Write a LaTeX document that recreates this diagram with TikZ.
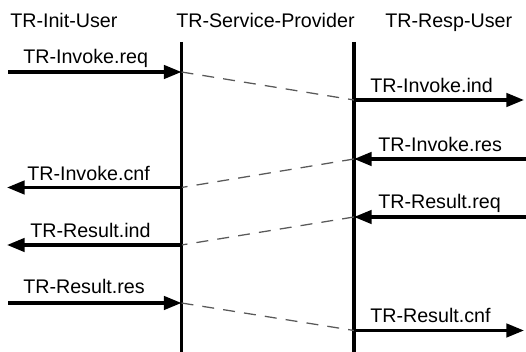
\documentclass[tikz,border=0pt]{standalone}
\usepackage{fontspec}
\setmainfont{Liberation Sans}
\usetikzlibrary{arrows.meta}

\begin{document}
\begin{tikzpicture}[
  x=0.025cm, y=-0.025cm,
  lifeline/.style={line width=2.4pt},
  msg/.style={line width=2.3pt, -{Triangle[length=12.5pt,width=9.5pt]}},
  internal/.style={gray!70!black, line width=0.9pt, dash pattern=on 8.5pt off 6.5pt},
  hdr/.style={anchor=base west, inner sep=0pt, font=\fontsize{14}{17}\selectfont},
  lbl/.style={anchor=base west, inner sep=0pt, font=\fontsize{14}{17}\selectfont}
]
\useasboundingbox (0,0) rectangle (526,352);

% Headings
\node[hdr] (init) at (10,28) {TR-Init-User};
\node[hdr] (prov) at (176,28) {TR-Service-Provider};
\node[hdr] (resp) at (385,28) {TR-Resp-User};

% Lifelines
\coordinate (sptop) at (181.5,42);
\coordinate (spbot) at (181.5,352);
\coordinate (rutop) at (354,42);
\coordinate (rubot) at (354,352);
\draw[lifeline] (sptop) -- (spbot);
\draw[lifeline] (rutop) -- (rubot);

% Invoke
\coordinate (ireq0) at (8,72);
\coordinate (ireq1) at (181.5,72);
\coordinate (iind0) at (354,100);
\coordinate (iind1) at (524,100);
\draw[msg] (ireq0) -- (ireq1);
\draw[internal] (ireq1) -- (iind0);
\draw[msg] (iind0) -- (iind1);
\node[lbl] (ireqlbl) at (23,64) {TR-Invoke.req};
\node[lbl] (iindlbl) at (370,93) {TR-Invoke.ind};

% Invoke response
\coordinate (ires0) at (526,159);
\coordinate (ires1) at (354,159);
\coordinate (icnf0) at (181.5,187.5);
\coordinate (icnf1) at (7,187.5);
\draw[msg] (ires0) -- (ires1);
\draw[internal] (ires1) -- (icnf0);
\draw[msg] (icnf0) -- (icnf1);
\node[lbl] (ireslbl) at (378,152) {TR-Invoke.res};
\node[lbl] (icnflbl) at (27,181) {TR-Invoke.cnf};

% Result
\coordinate (rreq0) at (526,217);
\coordinate (rreq1) at (354,217);
\coordinate (rind0) at (181.5,245);
\coordinate (rind1) at (7,245);
\draw[msg] (rreq0) -- (rreq1);
\draw[internal] (rreq1) -- (rind0);
\draw[msg] (rind0) -- (rind1);
\node[lbl] (rreqlbl) at (378,209) {TR-Result.req};
\node[lbl] (rindlbl) at (30,238) {TR-Result.ind};

% Result response
\coordinate (rres0) at (8,303);
\coordinate (rres1) at (181.5,303);
\coordinate (rcnf0) at (354,330.5);
\coordinate (rcnf1) at (524,330.5);
\draw[msg] (rres0) -- (rres1);
\draw[internal] (rres1) -- (rcnf0);
\draw[msg] (rcnf0) -- (rcnf1);
\node[lbl] (rreslbl) at (23,294) {TR-Result.res};
\node[lbl] (rcnflbl) at (370,323) {TR-Result.cnf};

\end{tikzpicture}
\end{document}
